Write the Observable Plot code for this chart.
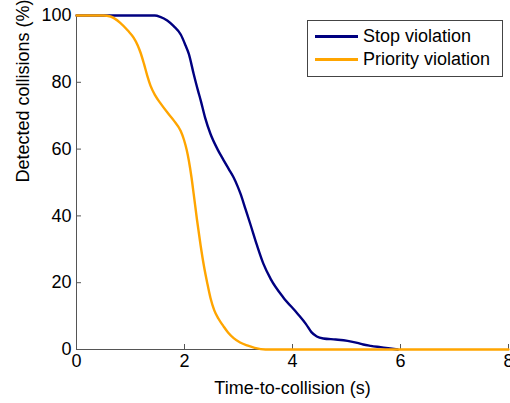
<!DOCTYPE html>
<html>
<head>
<meta charset="utf-8">
<script src="https://cdn.jsdelivr.net/npm/d3@7"></script>
<script src="https://cdn.jsdelivr.net/npm/@observablehq/plot@0.6"></script>
<style>
  html, body { margin: 0; padding: 0; background: #fff; }
  #wrap { position: relative; width: 510px; height: 403px; overflow: hidden; font-family: "Liberation Sans", Arial, sans-serif; }
  #legend { position: absolute; left: 307px; top: 20px; width: 196px; height: 57px; border: 1px solid #444; background: #fff; box-sizing: border-box; font-size: 18px; color: #000; }
  .item { position: absolute; left: 7px; height: 22px; line-height: 22px; white-space: nowrap; }
  .item span.sw { display: inline-block; width: 43px; height: 3px; vertical-align: middle; margin-right: 5px; position: relative; top: -1px; }
</style>
</head>
<body>
<div id="wrap"></div>
<script>
const seriesNames = ["Stop violation", "Priority violation"];
const seriesColors = ["#000080", "#FFA500"];

const stopX = [0, 1.45, 1.55, 1.68, 1.8, 1.93, 2.02, 2.08, 2.17, 2.25, 2.3, 2.38, 2.48, 2.61, 2.72, 2.82, 2.91, 2.98, 3.04, 3.13, 3.22, 3.34, 3.46, 3.6, 3.83, 4.09, 4.25, 4.35, 4.45, 4.57, 4.8, 5.02, 5.2, 5.31, 5.45, 5.63, 5.81, 5.95];
const stopY = [100, 100, 99.6, 98.5, 96.8, 94.3, 91, 88.5, 82.5, 77.5, 74.6, 69.5, 64.6, 60, 56.8, 54, 51.5, 49, 46.5, 42, 37.5, 31.3, 25.7, 21, 15.6, 10.8, 7.6, 5.2, 3.9, 3.3, 3.0, 2.6, 2.0, 1.5, 1.1, 0.7, 0.3, 0];

const prioX = [0, 0.5, 0.63, 0.81, 0.95, 1.06, 1.13, 1.19, 1.25, 1.31, 1.37, 1.46, 1.56, 1.68, 1.8, 1.93, 1.99, 2.04, 2.08, 2.13, 2.17, 2.23, 2.3, 2.36, 2.42, 2.48, 2.55, 2.63, 2.72, 2.81, 2.91, 3.03, 3.16, 3.3, 3.5, 8];
const prioY = [100, 100, 99.7, 97.8, 95.5, 93.3, 91.2, 88.7, 85.5, 82, 79, 76, 73.6, 71, 68.6, 65.4, 62.8, 59.8, 56.6, 51.5, 46.6, 39, 31, 25, 20, 15.5, 11.8, 9.2, 7, 5, 3.4, 2.1, 1.2, 0.5, 0, 0];

const xTicks = [0, 2, 4, 6, 8];
const yTicks = [0, 20, 40, 60, 80, 100];
const xLabel = "Time-to-collision (s)";
const yLabel = "Detected collisions (%)";

const data = [
  ...stopX.map((x, i) => ({x, y: stopY[i], s: seriesNames[0]})),
  ...prioX.map((x, i) => ({x, y: prioY[i], s: seriesNames[1]}))
];

const chart = Plot.plot({
  width: 510,
  height: 403,
  marginLeft: 76,
  marginRight: 2,
  marginTop: 15,
  marginBottom: 54,
  style: {fontFamily: "'Liberation Sans', Arial, sans-serif", fontSize: "18px", color: "#000", background: "#fff", overflow: "visible"},
  x: {domain: [0, 8]},
  y: {domain: [0, 100]},
  color: {domain: seriesNames, range: seriesColors},
  marks: [
    Plot.axisX({ticks: xTicks, tickSize: -5, tickPadding: 10, tickFormat: d => d, label: null, stroke: "#555", fill: "#000", fontSize: 18}),
    Plot.axisY({ticks: yTicks, tickSize: -5, tickPadding: 10, tickFormat: d => d, label: null, stroke: "#555", fill: "#000", fontSize: 18}),
    Plot.ruleY([0], {stroke: "#555"}),
    Plot.ruleX([0], {stroke: "#555"}),
    Plot.line(data, {x: "x", y: "y", z: "s", stroke: "s", strokeWidth: 2.4, curve: "monotone-x"}),
    Plot.text([xLabel], {frameAnchor: "bottom", dy: 39, text: d => d, fontSize: 18, lineAnchor: "middle"}),
    Plot.text([yLabel], {frameAnchor: "left", dx: -53, rotate: -90, text: d => d, fontSize: 18})
  ]
});

const wrap = document.getElementById("wrap");
wrap.appendChild(chart);

const legend = document.createElement("div");
legend.id = "legend";
seriesNames.forEach((n, i) => {
  const it = document.createElement("div");
  it.className = "item";
  it.style.top = (4 + i * 23) + "px";
  it.innerHTML = `<span class="sw" style="background:${seriesColors[i]}"></span>${n}`;
  legend.appendChild(it);
});
wrap.appendChild(legend);
</script>
</body>
</html>
